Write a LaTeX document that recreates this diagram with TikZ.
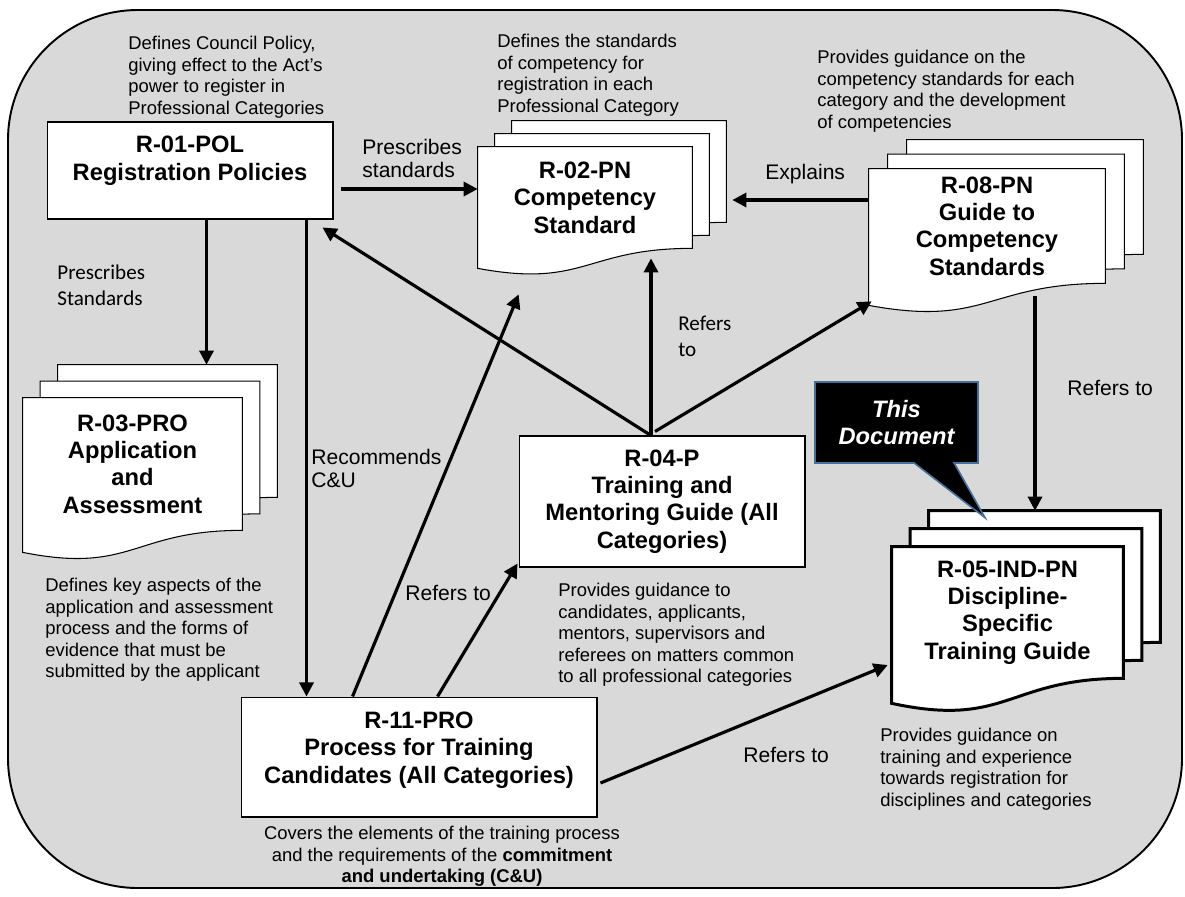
\documentclass[tikz,border=0pt]{standalone}
\usepackage{fontspec}
\setmainfont{Liberation Sans}
\newfontfamily\calibrifont{Carlito}
\usetikzlibrary{arrows.meta,calc,shapes.callouts}
\pgfdeclarelayer{back}
\pgfdeclarelayer{pages}
\pgfsetlayers{back,pages,main}
\definecolor{bggray}{RGB}{217,217,217}
\definecolor{callblue}{RGB}{65,113,156}
\newcommand{\titlefont}{\fontsize{13.5}{15.6}\selectfont\bfseries}

% one sheet of a document stack: node, shift x, shift y, depth of the wave
\newcommand{\docpage}[5][]{%
  \path[page,#1] ($(#2.north west)+(#3,#4)$) -- ($(#2.north east)+(#3,#4)$)
    -- ($(#2.south east)+(#3,#4)$)
    .. controls ($(#2.south)+(#3,#4)$) and ($(#2.south)+(#3,#4+2*#5)$)
    .. ($(#2.south west)+(#3,#4+#5)$) -- cycle;}
\newcommand{\docstack}[5][]{%
  \begin{pgfonlayer}{pages}
    \docpage[#1]{#2}{2*#3}{2*#4}{#5}
    \docpage[#1]{#2}{#3}{#4}{#5}
    \docpage[#1]{#2}{0}{0}{#5}
  \end{pgfonlayer}}

\begin{document}
\begin{tikzpicture}[x=0.02cm,y=-0.02cm,
    >={Triangle[length=8pt,width=8pt]},
    conn/.style={->,line width=1.8pt},
    page/.style={draw,fill=white,line width=0.6pt},
    box/.style={draw,fill=white,line width=0.6pt,align=center,font=\titlefont},
    doc/.style={align=center,inner sep=0pt,font=\titlefont},
    desc/.style={align=left,anchor=north west,inner sep=0pt,font=\fontsize{10.5}{12.2}\selectfont},
    lbl/.style={align=left,inner sep=0pt,font=\fontsize{12}{13}\selectfont},
    cal/.style={align=left,anchor=north west,inner sep=0pt,font=\calibrifont\fontsize{12}{14.5}\selectfont}]
  \useasboundingbox (0,0) rectangle (1185,896);
  \begin{pgfonlayer}{back}
    \draw[fill=bggray,line width=1.1pt,rounded corners=2.6cm] (8,10) rectangle (1182,888);
  \end{pgfonlayer}

  % documents
  \node[box,minimum width=5.72cm,minimum height=1.94cm,text depth=14pt] (r01) at (190,170.5) {R-01-POL\\Registration Policies};
  \node[doc,minimum width=4.28cm,minimum height=2.02cm] (r02) at (585,197.5) {R-02-PN\\Competency\\Standard};
  \node[doc,minimum width=4.72cm,minimum height=2.28cm] (r08) at (987,226) {R-08-PN\\Guide to\\Competency\\Standards};
  \node[doc,minimum width=4.38cm,minimum height=2.64cm] (r03) at (132.5,464) {R-03-PRO\\Application\\and\\Assessment};
  \node[box,minimum width=5.72cm,minimum height=2.62cm] (r04) at (662,501.5) {R-04-P\\Training and\\Mentoring Guide (All\\Categories)};
  \node[doc,minimum width=4.62cm,minimum height=2.62cm] (r05) at (1007.5,612.5) {R-05-IND-PN\\Discipline-\\Specific\\Training Guide};
  \node[box,minimum width=7.12cm,minimum height=2.4cm,text depth=11pt] (r11) at (419,757) {R-11-PRO\\Process for Training\\Candidates (All Categories)};
  \docstack{r02}{17}{-13}{20}
  \docstack{r08}{19}{-14.5}{22}
  \docstack{r03}{17.5}{-16.5}{22}
  \docstack[line width=1.7pt]{r05}{18.5}{-18}{25}

  \node[rectangle callout,fill=black,draw=callblue,line width=0.9pt,
        minimum width=3.26cm,minimum height=1.62cm,
        callout absolute pointer={($(r05.north)+(-22.5,-29)$)},callout pointer width=0.8cm,
        text=white,align=center,font=\titlefont\itshape] (thisdoc) at (896.5,422.5) {This\\Document};

  % descriptions
  \node[desc] (r01d) at (128,36) {Defines Council Policy,\\giving effect to the Act’s\\power to register in\\Professional Categories};
  \node[desc] (r02d) at (497,34) {Defines the standards\\of competency for\\registration in each\\Professional Category};
  \node[desc] (r08d) at (817,50) {Provides guidance on the\\competency standards for each\\category and the development\\of competencies};
  \node[desc] (r03d) at (45,578) {Defines key aspects of the\\application and assessment\\process and the forms of\\evidence that must be\\submitted by the applicant};
  \node[desc] (r04d) at (558,583) {Provides guidance to\\candidates, applicants,\\mentors, supervisors and\\referees on matters common\\to all professional categories};
  \node[desc] (r05d) at (880,728) {Provides guidance on\\training and experience\\towards registration for\\disciplines and categories};
  \node[desc,align=center,anchor=north] (r11d) at (442,826) {Covers the elements of the training process\\and the requirements of the \textbf{commitment}\\\textbf{and undertaking (C\&U)}};

  % connector labels
  \node[lbl,anchor=north west] (presc) at (362,139) {Prescribes\\standards};
  \node[lbl,anchor=base west] (expl) at (765,179.5) {Explains};
  \node[lbl,anchor=north west] (recom) at (311,449) {Recommends\\C\&U};
  \node[lbl,anchor=base west] (ref1) at (405,600.5) {Refers to};
  \node[lbl,anchor=base west] (ref2) at (1067,395.5) {Refers to};
  \node[lbl,anchor=base west] (ref3) at (743,762.5) {Refers to};
  \node[cal] (prescs) at (57,265) {Prescribes\\Standards};
  \node[cal] (ref4) at (678,316) {Refers\\to};

  % connectors
  \draw[conn] ($(r01.east)+(7,18.5)$) coordinate (a1) -- (a1 -| r02.west);
  \draw[conn] ($(r08.west)+(0,-26)$) coordinate (a2) -- ($(a2 -| r02.east)+(40,0)$);
  \draw[conn] ($(r01.south west)+(160,0)$) coordinate (a3) -- ($(a3 |- r03.north)+(0,-33)$);
  \draw[conn] ($(r01.south west)+(260,0)$) coordinate (a4) -- (a4 |- r11.north);
  \coordinate (hub) at ($(r04.north)+(-11,0)$);
  \draw[conn] (hub) -- ($(r01.south east)+(-11,8)$);
  \draw[conn] (hub) -- ($(hub |- r02.south)+(0,10)$);
  \draw[conn] ($(hub)+(4,-4)$) -- ($(r08.south west)+(3,18)$);
  \draw[conn] ($(r11.north west)+(112,0)$) -- ($(r02.south west)+(41,46)$);
  \draw[conn] ($(r11.north west)+(197,0)$) -- ($(r04.south west)+(-1,-4)$);
  \draw[conn] ($(r11.east)+(3,26)$) -- ($(r05.west)+(-4,52.5)$);
  \draw[conn] ($(r08.south)+(48,13)$) coordinate (a5) -- ($(a5 |- r05.north)+(0,-36)$);
\end{tikzpicture}
\end{document}
